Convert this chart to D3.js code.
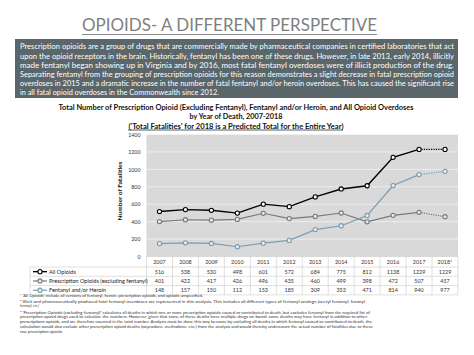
<!DOCTYPE html>
<html><head><meta charset="utf-8">
<script src="https://cdn.jsdelivr.net/npm/d3@7"></script>
<style>body{margin:0;background:#fff}svg{display:block}text{font-family:Lato,"Open Sans",sans-serif}</style>
</head><body><svg id="c" width="474" height="355"></svg>
<script>
const years = ["2007","2008","2009","2010","2011","2012","2013","2014","2015","2016","2017","2018"];
const yearLabels = ["2007","2008","2009","2010","2011","2012","2013","2014","2015","2016","2017","2018*"];
const allOpioids = [516,538,530,498,601,572,684,775,812,1138,1229,1229];
const prescription = [401,422,417,426,496,435,460,499,398,472,507,457];
const fentanyl = [148,157,150,112,153,185,309,353,471,814,940,977];
const seriesNames = ["All Opioids","Prescription Opioids (excluding fentanyl)","Fentanyl and/or Heroin"];
const yTicks = [0,200,400,600,800,1000,1200,1400];
const pageTitle = "OPIOIDS- A DIFFERENT PERSPECTIVE";
const boxLines = [
 "Prescription opioids are a group of drugs that are commercially made by pharmaceutical companies in certified laboratories that act",
 "upon the opioid receptors in the brain. Historically, fentanyl has been one of these drugs. However, in late 2013, early 2014, illicitly",
 "made fentanyl began showing up in Virginia and by 2016, most fatal fentanyl overdoses were of illicit production of the drug.",
 "Separating fentanyl from the grouping of prescription opioids for this reason demonstrates a slight decrease in fatal prescription opioid",
 "overdoses in 2015 and a dramatic increase in the number of fatal fentanyl and/or heroin overdoses. This has caused the significant rise",
 "in all fatal opioid overdoses in the Commonwealth since 2012."
];
const chartTitle = [
 "Total Number of Prescription Opioid (Excluding Fentanyl), Fentanyl and/or Heroin, and All Opioid Overdoses",
 "by Year of Death, 2007-2018",
 "('Total Fatalities' for 2018 is a Predicted Total for the Entire Year)"
];
const footLines = [
 "\u00b9 'All Opioids' include all versions of fentanyl, heroin, prescription opioids, and opioids unspecified.",
 "\u00b2 Illicit and pharmaceutically produced fatal fentanyl overdoses are represented in this analysis. This includes all different types of fentanyl analogs (acetyl fentanyl, furanyl",
 "fentanyl, etc.)",
 "\u00b3 'Prescription Opioids (excluding fentanyl)' calculates all deaths in which one or more prescription opioids caused or contributed to death, but excludes fentanyl from the required list of",
 "prescription opioid drugs used to calculate the numbers. However, given that some of these deaths have multiple drugs on board, some deaths may have fentanyl in addition to other",
 "prescriptions opioids, and are therefore counted in the total number. Analysis must be done this way because by excluding all deaths in which fentanyl caused or contributed to death, the",
 "calculation would also exclude other prescription opioid deaths (oxycodone, methadone, etc.) from the analysis and would thereby undercount the actual number of fatalities due to these",
 "true prescription opioids."
];

const svg = d3.select("#c");
const series = [
  {name: seriesNames[0], values: allOpioids, color: "#000000", fill:"#ffffff", w:1.4},
  {name: seriesNames[1], values: prescription, color: "#7a7a7a", fill:"#e8e8e8", w:1.2},
  {name: seriesNames[2], values: fentanyl, color: "#7b9db3", fill:"#e8eef2", w:1.2}
];

// page title
svg.append("text").attr("x",229.5).attr("y",31).attr("text-anchor","middle")
  .attr("font-size",17.5).attr("fill","#7f7f7f").attr("textLength",295).attr("lengthAdjust","spacingAndGlyphs")
  .text(pageTitle);
svg.append("line").attr("x1",82).attr("x2",377).attr("y1",34.5).attr("y2",34.5).attr("stroke","#8a8a8a").attr("stroke-width",1);

// box
svg.append("rect").attr("x",15).attr("y",39).attr("width",443).attr("height",59).attr("fill","#5a6669");
boxLines.forEach((t,i)=>{
  const el = svg.append("text").attr("x",20).attr("y",49.3+i*9.2).attr("font-size",7.6).attr("fill","#ffffff").text(t);
  el.attr("textLength", i<5 ? 434 : 199).attr("lengthAdjust","spacingAndGlyphs");
});

// chart title
const ctW = [355, 93, 215];
chartTitle.forEach((t,i)=>{
  svg.append("text").attr("x",236).attr("y",109.7+i*9.5).attr("text-anchor","middle")
    .attr("font-size",7.2).attr("font-weight","bold").attr("fill","#111")
    .attr("textLength",ctW[i]).attr("lengthAdjust","spacingAndGlyphs").text(t);
});
svg.append("line").attr("x1",128).attr("x2",343).attr("y1",130).attr("y2",130).attr("stroke","#111").attr("stroke-width",0.7);

// scales
const x = d3.scaleBand().domain(years).range([146.5,458]);
const y = d3.scaleLinear().domain([0,1400]).range([256.5,134.5]);

// plot bg
svg.append("rect").attr("x",146.5).attr("y",y(1400)).attr("width",311.5).attr("height",y(0)-y(1400)).attr("fill","#d9d9d9");
svg.append("g").selectAll("line").data(yTicks).join("line")
  .attr("x1",146.5).attr("x2",458).attr("y1",d=>y(d)).attr("y2",d=>y(d))
  .attr("stroke","#f2f2f2").attr("stroke-width",0.8);

// y axis
const yAxis = d3.axisLeft(y).tickValues(yTicks).tickFormat(d3.format("d")).tickSize(0).tickPadding(6);
const ga = svg.append("g").attr("transform","translate(146.5,0)").call(yAxis);
ga.select(".domain").remove();
ga.selectAll("text").attr("font-size",5.3).attr("fill","#333").attr("font-family","Lato, 'Open Sans', sans-serif");
svg.append("text").attr("transform","translate(121.5,191) rotate(-90)").attr("text-anchor","middle")
  .attr("font-size",6.2).attr("font-weight","bold").attr("fill","#111")
  .attr("textLength",59).attr("lengthAdjust","spacingAndGlyphs").text("Number of Fatalities");

// lines
const cx = d => x(d)+x.bandwidth()/2;
const line = d3.line().x(d=>cx(d.year)).y(d=>y(d.v));
series.forEach(s=>{
  const pts = years.map((yr,i)=>({year:yr, v:s.values[i]}));
  svg.append("path").attr("d",line(pts.slice(0,11))).attr("fill","none").attr("stroke",s.color).attr("stroke-width",s.w);
  svg.append("path").attr("d",line(pts.slice(10))).attr("fill","none").attr("stroke",s.color).attr("stroke-width",s.w)
    .attr("stroke-dasharray","1.2,1.2");
  svg.append("g").selectAll("circle").data(pts).join("circle")
    .attr("cx",d=>cx(d.year)).attr("cy",d=>y(d.v)).attr("r",2.1)
    .attr("fill",s.fill).attr("stroke",s.color).attr("stroke-width",1.1);
});

// table
const tTop = 256.5, hRow = 10.5, dRow = 9.3;
const tg = svg.append("g");
const bc = "#c9c9c9";
years.forEach((yr,i)=>{
  tg.append("text").attr("x",cx(yr)).attr("y",tTop+7.5).attr("text-anchor","middle")
    .attr("font-size",5.4).attr("fill","#333").text(yearLabels[i]);
});
const rowY = i => tTop + hRow + i*dRow;
tg.append("line").attr("x1",146.5).attr("x2",458).attr("y1",tTop).attr("y2",tTop).attr("stroke",bc).attr("stroke-width",0.6);
for(let i=0;i<=3;i++){
  tg.append("line").attr("x1",30).attr("x2",458).attr("y1",rowY(i)).attr("y2",rowY(i)).attr("stroke",bc).attr("stroke-width",0.6);
}
x.domain().forEach(yr=>{
  tg.append("line").attr("x1",x(yr)).attr("x2",x(yr)).attr("y1",tTop).attr("y2",rowY(3)).attr("stroke",bc).attr("stroke-width",0.6);
});
tg.append("line").attr("x1",458).attr("x2",458).attr("y1",tTop).attr("y2",rowY(3)).attr("stroke",bc).attr("stroke-width",0.6);
tg.append("line").attr("x1",30).attr("x2",30).attr("y1",rowY(0)).attr("y2",rowY(3)).attr("stroke",bc).attr("stroke-width",0.6);

series.forEach((s,si)=>{
  const ym = rowY(si)+dRow/2;
  tg.append("line").attr("x1",33).attr("x2",47).attr("y1",ym).attr("y2",ym).attr("stroke",s.color).attr("stroke-width",s.w);
  tg.append("circle").attr("cx",40).attr("cy",ym).attr("r",2.1).attr("fill",s.fill).attr("stroke",s.color).attr("stroke-width",1.1);
  tg.append("text").attr("x",49).attr("y",ym+2).attr("font-size",5.6).attr("fill","#222").text(s.name);
  s.values.forEach((v,i)=>{
    tg.append("text").attr("x",cx(years[i])).attr("y",ym+2).attr("text-anchor","middle")
      .attr("font-size",5.4).attr("fill","#333").text(v);
  });
});

// footnotes
const fy = [297, 302.5, 307, 313.5, 318.3, 323.1, 327.9, 332.7];
const fw = [183, 345, 19, 350, 347, 352, 353, 43];
footLines.forEach((t,i)=>{
  svg.append("text").attr("x",20).attr("y",fy[i]).attr("font-size",4.3).attr("fill","#333")
    .attr("textLength",fw[i]).attr("lengthAdjust","spacingAndGlyphs").text(t);
});
</script></body></html>
